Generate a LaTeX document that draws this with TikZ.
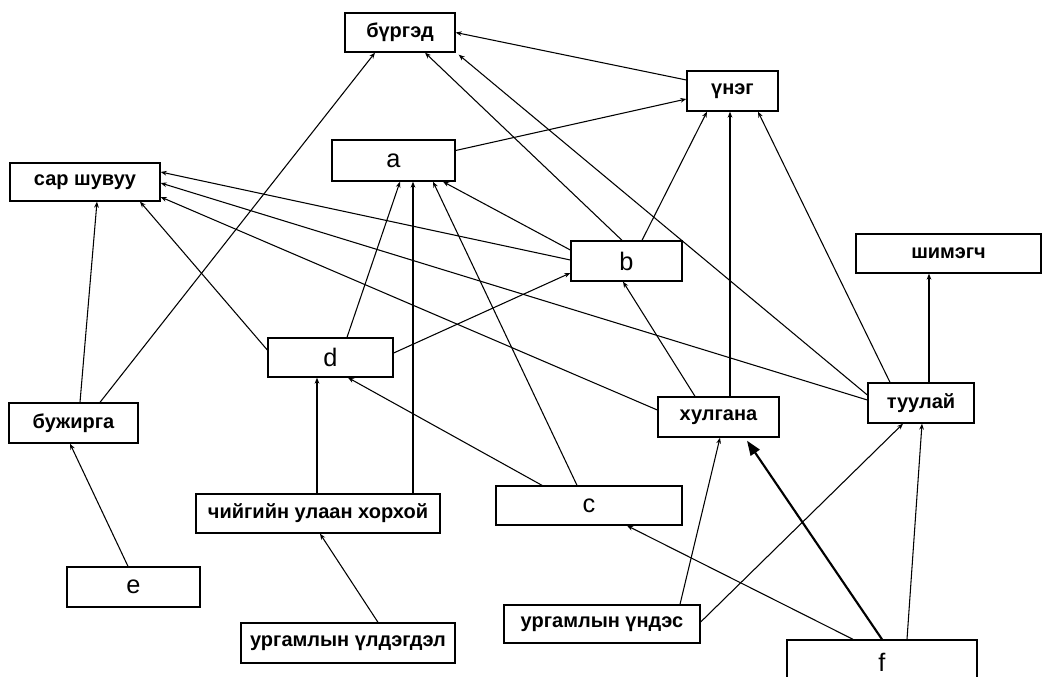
\documentclass[tikz,border=0pt]{standalone}
\usepackage{fontspec}
\setmainfont{Liberation Sans}
\usetikzlibrary{arrows.meta}
\tikzset{
  box/.style={draw, line width=1pt, rectangle, inner sep=0pt, font=\bfseries\fontsize{15}{18}\selectfont},
  letter/.style={draw, line width=1pt, rectangle, inner sep=0pt, font=\fontsize{19}{22}\selectfont},
  arr/.style={-{Stealth[length=4.5pt,width=3.5pt]}, line width=0.8pt},
  bigarr/.style={-{Triangle[length=11pt,width=8pt]}, line width=1.6pt}
}
\newcommand\Bx[7]{\node[#1, minimum width={(#5-#3)*0.75pt}, minimum height={(#6-#4)*0.75pt}] (#2) at ({(#3+#5)/2},{(#4+#6)/2}) {#7};}
\begin{document}
\begin{tikzpicture}[x=0.75pt,y=-0.75pt]
\useasboundingbox (0,0) rectangle (1046,677);
\clip (0,0) rectangle (1046,677);
\Bx{box}{burgad}{345}{13}{455}{52}{бүргэд}
\Bx{letter}{a}{332}{140}{455}{181}{a}
\Bx{box}{sar}{10}{163}{160}{201}{сар шувуу}
\Bx{box}{uneg}{687}{71}{778}{111}{үнэг}
\Bx{letter}{b}{571}{241}{682}{281}{b}
\Bx{box}{shim}{856}{234}{1041}{273}{шимэгч}
\Bx{letter}{d}{268}{338}{393}{377}{d}
\Bx{box}{buzh}{9}{403}{138}{443}{бужирга}
\Bx{box}{chii}{196}{494}{440}{533}{чийгийн улаан хорхой}
\Bx{letter}{e}{67}{567}{200}{607}{e}
\Bx{box}{urgul}{241}{623}{455}{663}{ургамлын үлдэгдэл}
\Bx{letter}{c}{496}{486}{682}{525}{c}
\Bx{box}{khul}{658}{397}{779}{437}{хулгана}
\Bx{box}{tuul}{868}{383}{974}{423}{туулай}
\Bx{box}{urgund}{504}{605}{700}{643}{ургамлын үндэс}
\Bx{letter}{f}{787}{640}{977}{684}{f}
% connectors
\draw[arr] ([shift={(0,-11)}]uneg.west) -- (burgad.east);
\draw[arr] ([shift={(0,-10)}]a.east) -- ([shift={(0,8)}]uneg.west);
\draw[arr] ([shift={(26.5,0)}]buzh.north) -- ([shift={(-25,0)}]burgad.south);
\draw[arr] ([shift={(-4.5,0)}]b.north) -- ([shift={(25,0)}]burgad.south);
\draw[arr] ([shift={(0,-8)}]tuul.west) -- ([shift={(3,2)}]burgad.south east);
\draw[arr] ([shift={(15.5,0)}]b.north) -- ([shift={(-25.5,0)}]uneg.south);
\draw[arr] ([shift={(11.5,0)}]khul.north) -- ([shift={(-2.5,0)}]uneg.south);
\draw[arr] ([shift={(-31,0)}]tuul.north) -- ([shift={(25.5,0)}]uneg.south);
\draw[arr] ([shift={(8,0)}]tuul.north) -- ([shift={(-19.5,0)}]shim.south);
\draw[arr] ([shift={(-23.5,0)}]khul.north) -- ([shift={(-3.5,0)}]b.south);
\draw[arr] ([shift={(0,-1)}]b.west) -- ([shift={(0,-10)}]sar.east);
\draw[arr] ([shift={(0,-3)}]tuul.west) -- ([shift={(0,1)}]sar.east);
\draw[arr] ([shift={(0,-7)}]khul.west) -- ([shift={(0,15)}]sar.east);
\draw[arr] ([shift={(0,-11)}]b.west) -- ([shift={(49.5,0)}]a.south);
\draw[arr] ([shift={(0,-4.5)}]d.east) -- ([shift={(0,12)}]b.west);
\draw[arr] ([shift={(0,-7.5)}]d.west) -- ([shift={(55,0)}]sar.south);
\draw[arr] ([shift={(6.5,0)}]buzh.north) -- ([shift={(12,0)}]sar.south);
\draw[arr] ([shift={(16.5,0)}]d.north) -- ([shift={(6.5,0)}]a.south);
\draw[arr] ([shift={(95,0)}]chii.north) -- ([shift={(19.5,0)}]a.south);
\draw[arr] ([shift={(-12,0)}]c.north) -- ([shift={(39.5,0)}]a.south);
\draw[arr] ([shift={(-47,0)}]c.north) -- ([shift={(17.5,0)}]d.south);
\draw[arr] ([shift={(-1,0)}]chii.north) -- ([shift={(-13.5,0)}]d.south);
\draw[arr] ([shift={(30,0)}]urgul.north) -- ([shift={(2,0)}]chii.south);
\draw[arr] ([shift={(-5.5,0)}]e.north) -- ([shift={(-3.5,0)}]buzh.south);
\draw[arr] ([shift={(78,0)}]urgund.north) -- ([shift={(1.5,0)}]khul.south);
\draw[arr] ([shift={(0,-2)}]urgund.east) -- ([shift={(-18,0)}]tuul.south);
\draw[arr] ([shift={(-29,0)}]f.north) -- ([shift={(38,0)}]c.south);
\draw[bigarr] (f.north) -- ([shift={(28.5,3)}]khul.south);
\draw[arr] ([shift={(25,0)}]f.north) -- ([shift={(1,0)}]tuul.south);
\end{tikzpicture}
\end{document}
